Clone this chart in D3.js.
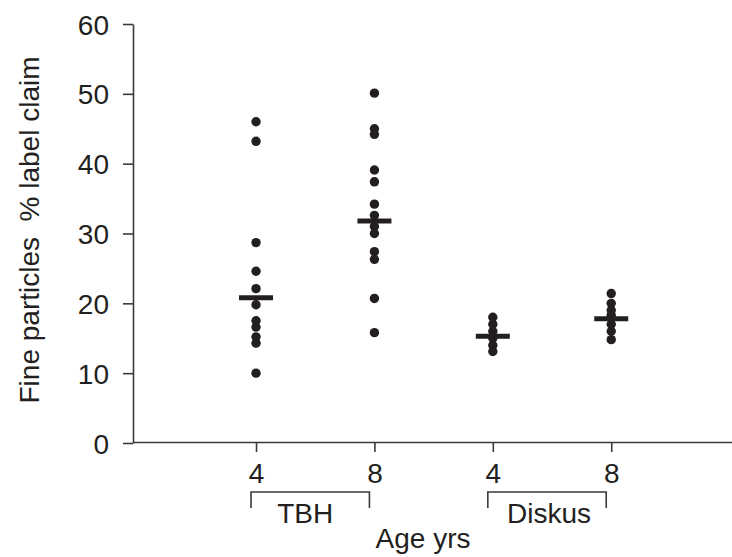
<!DOCTYPE html>
<html>
<head>
<meta charset="utf-8">
<script src="https://cdn.jsdelivr.net/npm/d3@7"></script>
<style>
  body { margin: 0; background: #fff; }
  svg text { font-family: "Liberation Sans", Arial, sans-serif; fill: #231f20; }
</style>
</head>
<body>
<div id="chart"></div>
<script>
// data
var groups = ["TBH 4", "TBH 8", "Diskus 4", "Diskus 8"];
var ageLabels = ["4", "8", "4", "8"];
var devices = [
  { name: "TBH", from: 0, to: 1 },
  { name: "Diskus", from: 2, to: 3 }
];
var tbh4 = [46.0, 43.2, 28.7, 24.6, 22.1, 19.8, 17.5, 16.6, 15.2, 14.3, 10.0];
var tbh8 = [50.1, 45.0, 44.2, 39.1, 37.4, 34.2, 32.6, 31.0, 30.0, 27.4, 26.3, 20.7, 15.8];
var diskus4 = [18.0, 17.0, 16.0, 15.0, 14.0, 13.1];
var diskus8 = [21.4, 20.0, 19.0, 18.3, 17.0, 16.0, 14.8];
var centres = [20.8, 31.8, 15.3, 17.8];
var yTicks = [0, 10, 20, 30, 40, 50, 60];

var width = 732, height = 557;
var ink = "#231f20";

var svg = d3.select("#chart").append("svg")
    .attr("width", width)
    .attr("height", height);

var y = d3.scaleLinear().domain([0, 60]).range([443, 24]);
// group index -> x position; axis runs from the y axis to the right edge
var x = d3.scaleLinear().domain([-1.039, 4.02]).range([133, 732]);

//axes
var yAxis = svg.append("g")
    .attr("transform", "translate(133,0)")
    .call(d3.axisLeft(y).tickValues(yTicks).tickSize(10).tickSizeOuter(0).tickPadding(14));
yAxis.selectAll("text").style("font-size", "28px").attr("dy", "0.36em");

var xAxis = svg.append("g")
    .attr("transform", "translate(0,442)")
    .call(d3.axisBottom(x).tickValues([0, 1, 2, 3])
        .tickFormat(function(d) { return ageLabels[d]; })
        .tickSize(10).tickSizeOuter(0).tickPadding(11));
xAxis.selectAll("text").style("font-size", "28px");

svg.selectAll(".domain, .tick line")
    .attr("stroke", "#3a3a3a")
    .attr("stroke-width", 1.6);

//points
var series = [tbh4, tbh8, diskus4, diskus8];
var points = [];
series.forEach(function(vals, i) {
    vals.forEach(function(v) { points.push({ g: i, v: v }); });
});

svg.append("g").selectAll("circle")
    .data(points)
    .enter().append("circle")
    .attr("cx", function(d) { return x(d.g); })
    .attr("cy", function(d) { return y(d.v); })
    .attr("r", 4.7)
    .attr("fill", ink);

svg.append("g").selectAll("line")
    .data(centres)
    .enter().append("line")
    .attr("x1", function(d, i) { return x(i) - 17; })
    .attr("x2", function(d, i) { return x(i) + 17; })
    .attr("y1", function(d) { return y(d); })
    .attr("y2", function(d) { return y(d); })
    .attr("stroke", ink)
    .attr("stroke-width", 5);

//device brackets
var br = svg.append("g").selectAll("g")
    .data(devices)
    .enter().append("g");

br.append("path")
    .attr("fill", "none")
    .attr("stroke", "#3a3a3a")
    .attr("stroke-width", 1.6)
    .attr("d", function(d) {
        var a = x(d.from) - 5, b = x(d.to) - 5;
        return "M" + a + " 508V492H" + b + "V508";
    });

br.append("text")
    .attr("x", function(d) { return (x(d.from) + x(d.to)) / 2 - 10 + (d.from ? 7 : 0); })
    .attr("y", 523)
    .attr("text-anchor", "middle")
    .style("font-size", "28px")
    .text(function(d) { return d.name; });

//axis titles
svg.append("text")
    .attr("x", 423)
    .attr("y", 548)
    .attr("text-anchor", "middle")
    .style("font-size", "28px")
    .text("Age yrs");

svg.append("text")
    .attr("transform", "translate(39,230) rotate(-90)")
    .attr("text-anchor", "middle")
    .style("font-size", "28px")
    .style("white-space", "pre")
    .text("Fine particles  % label claim");
</script>
</body>
</html>
